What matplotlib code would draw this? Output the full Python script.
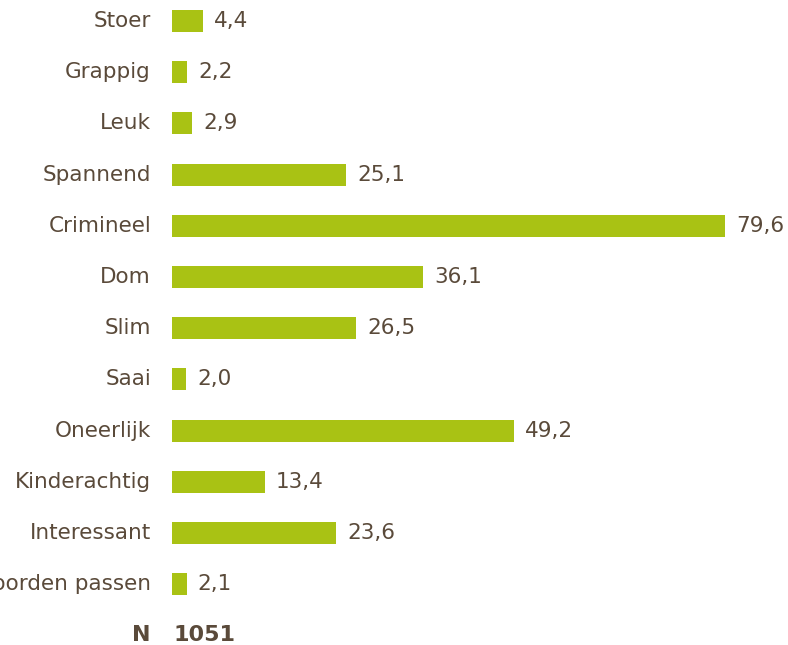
import matplotlib
matplotlib.use("Agg")
import matplotlib.pyplot as plt

# Data
categories = ["Stoer", "Grappig", "Leuk", "Spannend", "Crimineel", "Dom", "Slim",
              "Saai", "Oneerlijk", "Kinderachtig", "Interessant",
              "Geen van deze woorden passen"]
values = [4.4, 2.2, 2.9, 25.1, 79.6, 36.1, 26.5, 2.0, 49.2, 13.4, 23.6, 2.1]
n_total = 1051

bar_color = "#a9c214"
text_color = "#5a4a3a"
fs = 15.5

W, H = 788, 645
fig = plt.figure(figsize=(W / 100, H / 100), dpi=100)
ax = fig.add_axes([172 / W, 0, 556 / W, 1])
ax.set_xlim(0, 80)
ax.set_ylim(12.19, -0.41)
ax.axis("off")

ypos = list(range(len(categories)))
ax.barh(ypos, values, height=0.43, color=bar_color)

for y, cat, v in zip(ypos, categories, values):
    ax.annotate(cat, xy=(0, y), xytext=(-21, 0), textcoords="offset pixels",
                ha="right", va="center", fontsize=fs, color=text_color,
                annotation_clip=False)
    ax.annotate(f"{v:.1f}".replace(".", ","), xy=(v, y), xytext=(11, 0),
                textcoords="offset pixels", ha="left", va="center",
                fontsize=fs, color=text_color, annotation_clip=False)

# N row
ny = len(categories)
ax.annotate("N", xy=(0, ny), xytext=(-21, 0), textcoords="offset pixels",
            ha="right", va="center", fontsize=16, fontweight="bold",
            color=text_color, annotation_clip=False)
ax.annotate(str(n_total), xy=(0, ny), xytext=(2, 0), textcoords="offset pixels",
            ha="left", va="center", fontsize=16, fontweight="bold",
            color=text_color, annotation_clip=False)

fig.savefig("out.png", dpi=100)
